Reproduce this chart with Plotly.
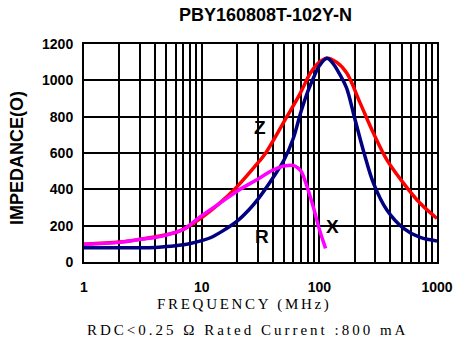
import plotly.graph_objects as go

# Z curve (red)
z_freq = [1, 2, 3, 5, 7, 10, 14, 20, 30, 35, 53, 69, 84, 100, 116, 140, 171, 222, 288, 375, 519, 719, 1000]
z_imp = [98, 110, 125, 150, 180, 245, 320, 415, 545, 600, 800, 930, 1040, 1100, 1122, 1100, 1040, 876, 710, 562, 434, 323, 240]

# R curve (navy)
r_freq = [1, 2, 3, 4, 5, 6, 7, 8, 10, 12, 15, 20, 25, 30, 40, 50, 60, 70, 80, 90, 100, 116, 130, 150, 170, 200, 240, 290, 375, 520, 720, 1000]
r_imp = [78, 78, 78, 80, 85, 90, 95, 102, 118, 135, 170, 225, 285, 345, 460, 560, 680, 830, 940, 1020, 1080, 1122, 1095, 1030, 960, 790, 600, 430, 286, 185, 135, 116]

# X curve (magenta)
x_freq = [1, 2, 3, 4, 5, 7, 10, 14, 20, 30, 40, 50, 60, 65, 70, 80, 90, 100, 113]
x_imp = [98, 108, 125, 135, 148, 180, 255, 320, 390, 456, 505, 528, 532, 520, 500, 400, 290, 180, 75]

x_tick_vals = [1, 10, 100, 1000]
x_tick_text = ["1", "10", "100", "1000"]
x_minor_vals = [m * d for d in [1, 10, 100] for m in range(2, 10)]
y_tick_vals = [0, 200, 400, 600, 800, 1000, 1200]

SANS = "Liberation Sans, Arial, sans-serif"
SERIF = "Liberation Serif, Times New Roman, serif"

fig = go.Figure()
fig.add_trace(go.Scatter(x=z_freq, y=z_imp, mode="lines", line=dict(color="#FF0000", width=3.5, shape="spline"), showlegend=False, hoverinfo="skip"))
fig.add_trace(go.Scatter(x=r_freq, y=r_imp, mode="lines", line=dict(color="#000080", width=3.5, shape="spline"), showlegend=False, hoverinfo="skip"))
fig.add_trace(go.Scatter(x=x_freq, y=x_imp, mode="lines", line=dict(color="#FF00FF", width=3.5, shape="spline"), showlegend=False, hoverinfo="skip"))

fig.update_layout(
    width=455, height=354, autosize=False,
    margin=dict(l=84, r=18, t=44, b=92, autoexpand=False),
    paper_bgcolor="white", plot_bgcolor="white",
    xaxis=dict(
        type="log", range=[0, 3], automargin=False,
        tickvals=x_tick_vals, ticktext=x_tick_text,
        showgrid=True, gridcolor="black", gridwidth=1.5,
        minor=dict(tickvals=x_minor_vals, showgrid=True, gridcolor="black", gridwidth=1.5),
        showline=True, mirror=True, linecolor="black", linewidth=2,
        ticks="", ticklabelstandoff=11,
        tickfont=dict(family=SANS, size=14, color="black", weight="bold"),
        zeroline=False,
    ),
    yaxis=dict(
        range=[0, 1200], tickvals=y_tick_vals, automargin=False,
        showgrid=True, gridcolor="black", gridwidth=1.5,
        showline=True, mirror=True, linecolor="black", linewidth=2,
        ticks="", ticklabelstandoff=6,
        tickfont=dict(family=SANS, size=14, color="black", weight="bold"),
        zeroline=False,
    ),
    annotations=[
        dict(text="<b>PBY160808T-102Y-N</b>", xref="paper", yref="paper", x=0.513, y=1.133,
             xanchor="center", yanchor="middle", showarrow=False, font=dict(family=SANS, size=18, color="black")),
        dict(text="<b>IMPEDANCE(O)</b>", xref="paper", yref="paper", x=-0.19, y=0.477, textangle=-90,
             xanchor="center", yanchor="middle", showarrow=False, font=dict(family=SANS, size=18, color="black")),
        dict(text='<span style="letter-spacing:2.7px">FREQUENCY (MHz)</span>', xref="paper", yref="paper", x=0.456, y=-0.193,
             xanchor="center", yanchor="middle", showarrow=False, font=dict(family=SERIF, size=15, color="black")),
        dict(text='<span style="letter-spacing:3px">RDC&lt;0.25 Ω Rated Current :800 mA</span>', xref="paper", yref="paper", x=0.462, y=-0.312,
             xanchor="center", yanchor="middle", showarrow=False, font=dict(family=SERIF, size=15, color="black")),
        dict(text="<b>Z</b>", xref="paper", yref="paper", x=0.499, y=0.615,
             xanchor="center", yanchor="middle", showarrow=False, font=dict(family=SANS, size=19, color="black")),
        dict(text="<b>R</b>", xref="paper", yref="paper", x=0.504, y=0.115,
             xanchor="center", yanchor="middle", showarrow=False, font=dict(family=SANS, size=19, color="black")),
        dict(text="<b>X</b>", xref="paper", yref="paper", x=0.705, y=0.161,
             xanchor="center", yanchor="middle", showarrow=False, font=dict(family=SANS, size=19, color="black")),
    ],
)

fig.write_html("out.html", config={"displayModeBar": False},
               post_script="document.body.style.margin='0';document.body.style.overflow='hidden';")
